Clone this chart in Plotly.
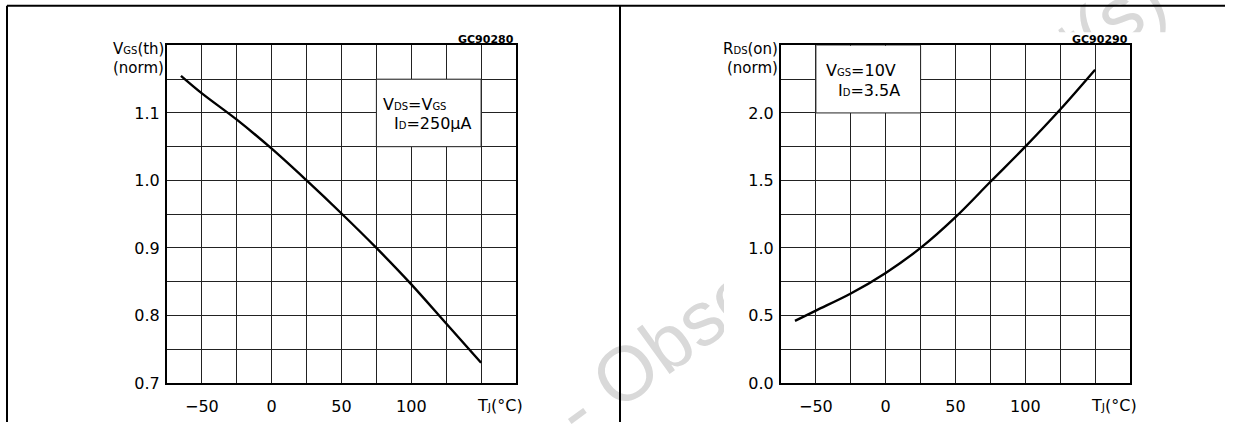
import plotly.graph_objects as go

W, H = 1234, 432

# ---------------- data ----------------
temps = [-65, -50, -25, 0, 25, 50, 75, 100, 125, 150]
vgs_th_norm = [1.155, 1.129, 1.09, 1.047, 1.0, 0.951, 0.9, 0.846, 0.788, 0.73]
rds_on_norm = [0.46, 0.536, 0.662, 0.815, 1.0, 1.228, 1.49, 1.75, 2.025, 2.32]

x_grid = [-75, -50, -25, 0, 25, 50, 75, 100, 125, 150, 175]
x_labels = {-50: "−50", 0: "0", 50: "50", 100: "100"}

vgs_grid = [0.70, 0.75, 0.80, 0.85, 0.90, 0.95, 1.00, 1.05, 1.10, 1.15, 1.20]
vgs_labels = {0.7: "0.7", 0.8: "0.8", 0.9: "0.9", 1.0: "1.0", 1.1: "1.1"}

rds_grid = [0.0, 0.25, 0.5, 0.75, 1.0, 1.25, 1.5, 1.75, 2.0, 2.25, 2.5]
rds_labels = {0.0: "0.0", 0.5: "0.5", 1.0: "1.0", 1.5: "1.5", 2.0: "2.0"}

# ---------------- helpers ----------------
def px(x):
    return x / W

def py(y):
    return 1 - y / H

def sm(t, size=10):
    return f"<span style='font-size:{size}px'>{t}</span>"

FONT = "DejaVu Sans"
GRID = "#222222"

fig = go.Figure()

fig.add_trace(go.Scatter(x=temps, y=vgs_th_norm, mode="lines",
                         line=dict(color="black", width=2.4, shape="spline", smoothing=1.0),
                         xaxis="x", yaxis="y", showlegend=False, hoverinfo="skip"))
fig.add_trace(go.Scatter(x=temps, y=rds_on_norm, mode="lines",
                         line=dict(color="black", width=2.4, shape="spline", smoothing=1.0),
                         xaxis="x2", yaxis="y2", showlegend=False, hoverinfo="skip"))

def xaxis_cfg(domain, anchor):
    return dict(domain=domain, anchor=anchor, range=[-75, 175],
                tickmode="array", tickvals=x_grid,
                ticktext=[x_labels.get(v, "") for v in x_grid],
                showgrid=True, gridcolor=GRID, gridwidth=1,
                showline=True, linecolor="black", linewidth=2, mirror=True,
                ticks="", ticklabelstandoff=8, zeroline=False,
                tickfont=dict(family=FONT, size=16, color="black"), fixedrange=True)

def yaxis_cfg(domain, anchor, rng, grid, labels):
    return dict(domain=domain, anchor=anchor, range=rng,
                tickmode="array", tickvals=grid,
                ticktext=[labels.get(round(v, 2), "") for v in grid],
                showgrid=True, gridcolor=GRID, gridwidth=1,
                showline=True, linecolor="black", linewidth=2, mirror=True,
                ticks="", ticklabelstandoff=2, zeroline=False,
                tickfont=dict(family=FONT, size=16, color="black"), fixedrange=True)

ydom = [py(392), py(46.5)]
fig.update_layout(
    width=W, height=H, margin=dict(l=0, r=0, t=0, b=0),
    paper_bgcolor="white", plot_bgcolor="white",
    xaxis=xaxis_cfg([px(167), px(516)], "y"),
    yaxis=yaxis_cfg(ydom, "x", [0.7, 1.2], vgs_grid, vgs_labels),
    xaxis2=xaxis_cfg([px(781), px(1130)], "y2"),
    yaxis2=yaxis_cfg(ydom, "x2", [0.0, 2.5], rds_grid, rds_labels),
)

shapes = []
# watermark (beneath everything)
wx, wy = 855, 202
shapes.append(dict(type="rect", xref="paper", yref="paper", layer="below",
                   x0=px(wx - 1), x1=px(wx + 1), y0=py(wy + 1), y1=py(wy - 1),
                   line=dict(width=0), fillcolor="rgba(0,0,0,0)",
                   label=dict(text="- Obsolete Product(s)", textangle=-36,
                              textposition="middle center",
                              font=dict(family="Liberation Sans", size=77, color="#d9d9d9"))))
# white cover of the right chart image region
shapes.append(dict(type="rect", xref="paper", yref="paper", layer="below",
                   x0=px(724), x1=px(1232), y0=py(432), y1=py(33),
                   line=dict(width=0), fillcolor="white"))
# condition boxes
shapes.append(dict(type="rect", xref="x", yref="y", x0=75, x1=150, y0=1.05, y1=1.15,
                   fillcolor="white", line=dict(color=GRID, width=1), layer="above"))
shapes.append(dict(type="rect", xref="x2", yref="y2", x0=-50, x1=25, y0=2.0, y1=2.5,
                   fillcolor="white", line=dict(color=GRID, width=1), layer="above"))
# outer frame
for (x0, y0, x1, y1) in [(7, 6, 1225, 6), (7, 6, 7, 432), (620, 6, 620, 432)]:
    shapes.append(dict(type="line", xref="paper", yref="paper",
                       x0=px(x0), y0=py(y0), x1=px(x1), y1=py(y1),
                       line=dict(color="black", width=2), layer="above"))
fig.update_layout(shapes=shapes)

ann = []
def txt(text, x, y, xanchor="left", size=15, bold=False, xref="paper", yref="paper"):
    ann.append(dict(text=f"<b>{text}</b>" if bold else text,
                    x=x, y=y, xref=xref, yref=yref,
                    xanchor=xanchor, yanchor="middle", showarrow=False,
                    font=dict(family=FONT, size=size, color="black")))

# left chart
txt("V" + sm("GS") + "(th)", px(166), py(50), "right")
txt("(norm)", px(166), py(70), "right")
txt("GC90280", px(516), py(40), "right", size=11, bold=True)
txt("V" + sm("DS") + "=V" + sm("GS"), px(381), py(107), "left", size=16)
txt("I" + sm("D") + "=250μA", px(392), py(126), "left", size=16)
txt("T" + sm("J", 11) + "(°C)", px(500), py(415), "center", size=16)
# right chart
txt("R" + sm("DS") + "(on)", px(780), py(50), "right")
txt("(norm)", px(780), py(70), "right")
txt("GC90290", px(1130), py(40), "right", size=11, bold=True)
txt("V" + sm("GS") + "=10V", px(824), py(72), "left", size=16)
txt("I" + sm("D") + "=3.5A", px(836), py(93), "left", size=16)
txt("T" + sm("J", 11) + "(°C)", px(1114), py(415), "center", size=16)

fig.update_layout(annotations=ann)

fig.write_html("out.html", post_script="document.body.style.margin='0';",
               config={"displayModeBar": False})
